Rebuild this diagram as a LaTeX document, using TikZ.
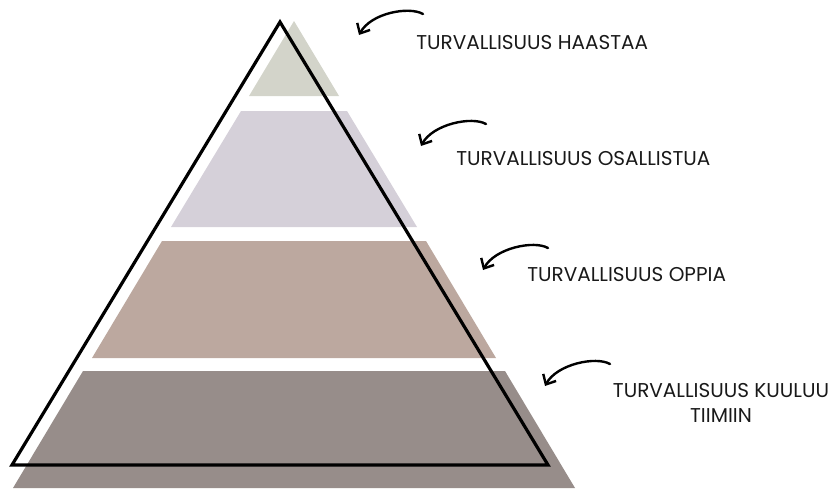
\documentclass[tikz,border=0pt]{standalone}
\usepackage{fontspec}
\setmainfont{Poppins}
\usetikzlibrary{arrows.meta,calc}
\definecolor{layerA}{HTML}{D3D4CA}
\definecolor{layerB}{HTML}{D5D0D9}
\definecolor{layerC}{HTML}{BCA89F}
\definecolor{layerD}{HTML}{978D8A}
\tikzset{
  lbl/.style={font=\fontsize{15}{19}\selectfont, text=black!90, inner sep=0pt},
  curvearrow/.style={line width=1.8pt, line cap=round, -{Straight Barb[length=6pt,width=11pt,line width=1.8pt]}},
  outline/.style={draw=black, line width=2.4pt, line join=miter}
}
\begin{document}
\begin{tikzpicture}[x=0.75pt,y=-0.75pt]
\useasboundingbox (0,0) rectangle (834,489);
% layers
\fill[layerA] (294,21) -- (339,96) -- (249,96) -- cycle;
\fill[layerB] (241,111) -- (347,111) -- (417,227) -- (171,227) -- cycle;
\fill[layerC] (162,241) -- (426,241) -- (496,358) -- (92,358) -- cycle;
\fill[layerD] (83,371) -- (505,371) -- (575,488) -- (13,488) -- cycle;
% outline triangle
\draw[outline] (280,22) -- (548,465) -- (12,465) -- cycle;
% labels
\node[lbl, anchor=west] (t1) at (416,43) {TURVALLISUUS HAASTAA};
\node[lbl, anchor=west] (t2) at (456,159) {TURVALLISUUS OSALLISTUA};
\node[lbl, anchor=west] (t3) at (527,275) {TURVALLISUUS OPPIA};
\node[lbl, align=center] (t4) at (721,403) {TURVALLISUUS KUULUU\\TIIMIIN};
% arrow coordinates
\coordinate (s1) at (423,14); \coordinate (e1) at (359,35);
\coordinate (s2) at (486,124); \coordinate (e2) at (421,146);
\coordinate (s3) at (548,248); \coordinate (e3) at (483,270);
\coordinate (s4) at (610,364); \coordinate (e4) at (545,386);
\draw[curvearrow] (s1) .. controls ($(s1)+(-14,-8)$) and ($(e1)+(12,-22)$) .. (e1);
\draw[curvearrow] (s2) .. controls ($(s2)+(-14,-8)$) and ($(e2)+(12,-22)$) .. (e2);
\draw[curvearrow] (s3) .. controls ($(s3)+(-14,-8)$) and ($(e3)+(12,-22)$) .. (e3);
\draw[curvearrow] (s4) .. controls ($(s4)+(-14,-8)$) and ($(e4)+(12,-22)$) .. (e4);
\end{tikzpicture}
\end{document}
